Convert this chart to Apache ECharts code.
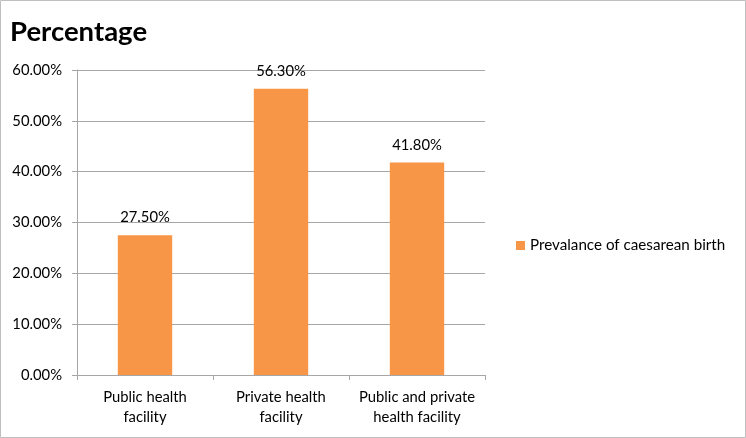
<!DOCTYPE html>
<html><head><meta charset="utf-8">
<script src="https://cdn.jsdelivr.net/npm/echarts@6/dist/echarts.min.js"></script>
<style>html,body{margin:0;padding:0;background:#fff}#c{width:746px;height:438px}</style>
</head><body><div id="c"></div>
<script>
var categories = ['Public health\nfacility', 'Private health\nfacility', 'Public and private\nhealth facility'];
var values = [0.275, 0.563, 0.418];
var seriesName = 'Prevalance of caesarean birth';
var titleText = 'Percentage';
var FONT = 'Lato, "Open Sans", sans-serif';
var chart = echarts.init(document.getElementById('c'), null, {renderer: 'canvas'});
chart.setOption({
  animation: false,
  backgroundColor: '#fff',
  title: {text: titleText, left: 5, top: 13, textStyle: {fontFamily: FONT, fontSize: 27.5, fontWeight: 'bold', color: '#000'}},
  graphic: [{type: 'rect', shape: {x: 0.5, y: 0.5, width: 745, height: 437}, style: {fill: 'none', stroke: '#bfbfbf', lineWidth: 1}}],
  legend: {
    orient: 'vertical', left: 511, top: 233, itemWidth: 9, itemHeight: 9, itemGap: 5,
    icon: 'rect',
    textStyle: {fontFamily: FONT, fontSize: 15.2, color: '#000'},
    data: [seriesName]
  },
  grid: {left: 77, right: 261, top: 70, bottom: 63, containLabel: false},
  xAxis: {
    type: 'category', data: categories,
    axisLine: {lineStyle: {color: '#a6a6a6'}},
    axisTick: {show: true, length: 5, lineStyle: {color: '#a6a6a6'}},
    axisLabel: {interval: 0, fontFamily: FONT, fontSize: 14.8, color: '#000', lineHeight: 20, margin: 12}
  },
  yAxis: {
    type: 'value', min: 0, max: 0.6, interval: 0.1,
    axisLine: {show: true, lineStyle: {color: '#a6a6a6'}},
    axisTick: {show: true, length: 5, lineStyle: {color: '#a6a6a6'}},
    splitLine: {lineStyle: {color: '#a6a6a6'}},
    axisLabel: {fontFamily: FONT, fontSize: 14.8, color: '#000', margin: 15,
      formatter: function (v) { return (v * 100).toFixed(2) + '%'; }}
  },
  series: [{
    name: seriesName, type: 'bar', data: values, barWidth: '40%',
    itemStyle: {color: '#f79646'},
    label: {show: true, position: 'top', distance: 10, fontFamily: FONT, fontSize: 14.8, color: '#000',
      formatter: function (p) { return (p.value * 100).toFixed(2) + '%'; }}
  }]
});
</script></body></html>
